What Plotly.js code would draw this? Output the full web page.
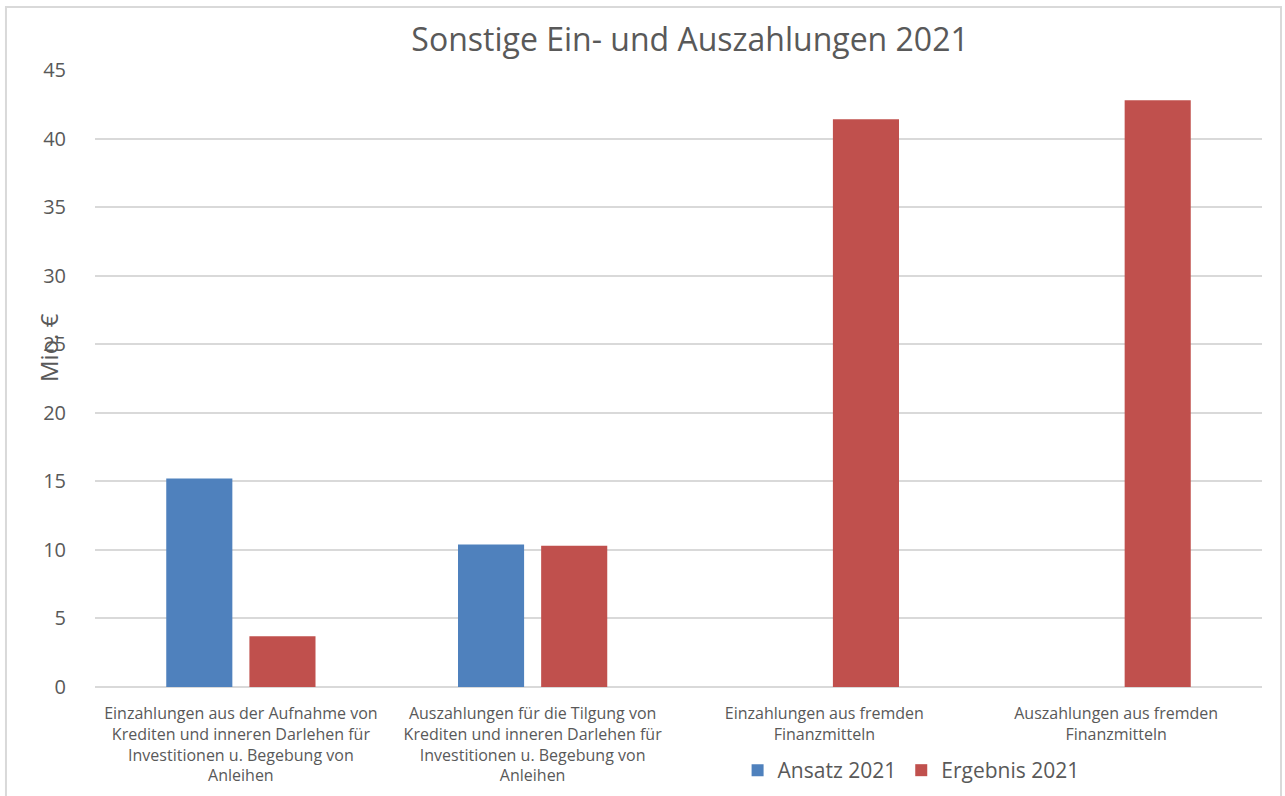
<!DOCTYPE html>
<html>
<head>
<meta charset="utf-8">
<script src="https://cdn.plot.ly/plotly-3.0.1.min.js"></script>
<style>html,body{margin:0;padding:0;background:#fff;}#chart{width:1285px;height:796px;}</style>
</head>
<body>
<div id="chart"></div>
<script>
const categories = [
  "Einzahlungen aus der Aufnahme von<br>Krediten und inneren Darlehen für<br>Investitionen u. Begebung von<br>Anleihen",
  "Auszahlungen für die Tilgung von<br>Krediten und inneren Darlehen für<br>Investitionen u. Begebung von<br>Anleihen",
  "Einzahlungen aus fremden<br>Finanzmitteln",
  "Auszahlungen aus fremden<br>Finanzmitteln"
];
const ansatz2021 = [15.2, 10.4, 0, 0];
const ergebnis2021 = [3.7, 10.3, 41.4, 42.8];
const yTicks = [0, 5, 10, 15, 20, 25, 30, 35, 40, 45];

const font = "'Open Sans', 'Noto Sans', sans-serif";
const grey = "#595959";

const traces = [
  {type: "bar", name: "Ansatz 2021", x: categories, y: ansatz2021,
   marker: {color: "#4f81bd"}},
  {type: "bar", name: "Ergebnis 2021", x: categories, y: ergebnis2021,
   marker: {color: "#c0504d"}}
];

const layout = {
  width: 1285, height: 796,
  margin: {l: 95, r: 23, t: 70, b: 109},
  paper_bgcolor: "#fff", plot_bgcolor: "#fff",
  font: {family: font, color: grey},
  title: {text: "Sonstige Ein- und Auszahlungen 2021", font: {family: font, size: 32, color: grey},
          x: 0.537, xanchor: "center", xref: "container", y: 0.95, yanchor: "middle", yref: "container"},
  barmode: "group", bargap: 0.43, bargroupgap: 0.205,
  xaxis: {type: "category", tickfont: {size: 16, color: grey}, showgrid: false,
          showline: false, ticks: "", automargin: false, tickangle: 0, ticklabelstandoff: 15},
  yaxis: {range: [0, 45], tickvals: yTicks, tickfont: {size: 20, color: grey},
          gridcolor: "#d9d9d9", gridwidth: 2, zeroline: true, zerolinecolor: "#d9d9d9", zerolinewidth: 2,
          showline: false, ticks: "", ticklabelstandoff: 28, automargin: false},
  showlegend: true,
  legend: {orientation: "h", x: 0.574, xanchor: "left", xref: "container",
           y: 0.032, yanchor: "middle", yref: "container",
           font: {size: 21, color: grey}, itemwidth: 30, traceorder: "normal"},
  annotations: [{text: "Mio. €", textangle: -90, xref: "paper", yref: "paper",
                 x: -0.04, y: 0.55, xanchor: "center", yanchor: "middle", showarrow: false,
                 font: {size: 24, color: grey, family: font}}],
  shapes: [{type: "rect", xref: "paper", yref: "paper", x0: -0.0763, x1: 1.0163, y0: -0.4, y1: 1.102,
            line: {color: "#d9d9d9", width: 2}, fillcolor: "rgba(0,0,0,0)", layer: "below"}]
};

Plotly.newPlot("chart", traces, layout, {displayModeBar: false, responsive: false});
</script>
</body>
</html>
